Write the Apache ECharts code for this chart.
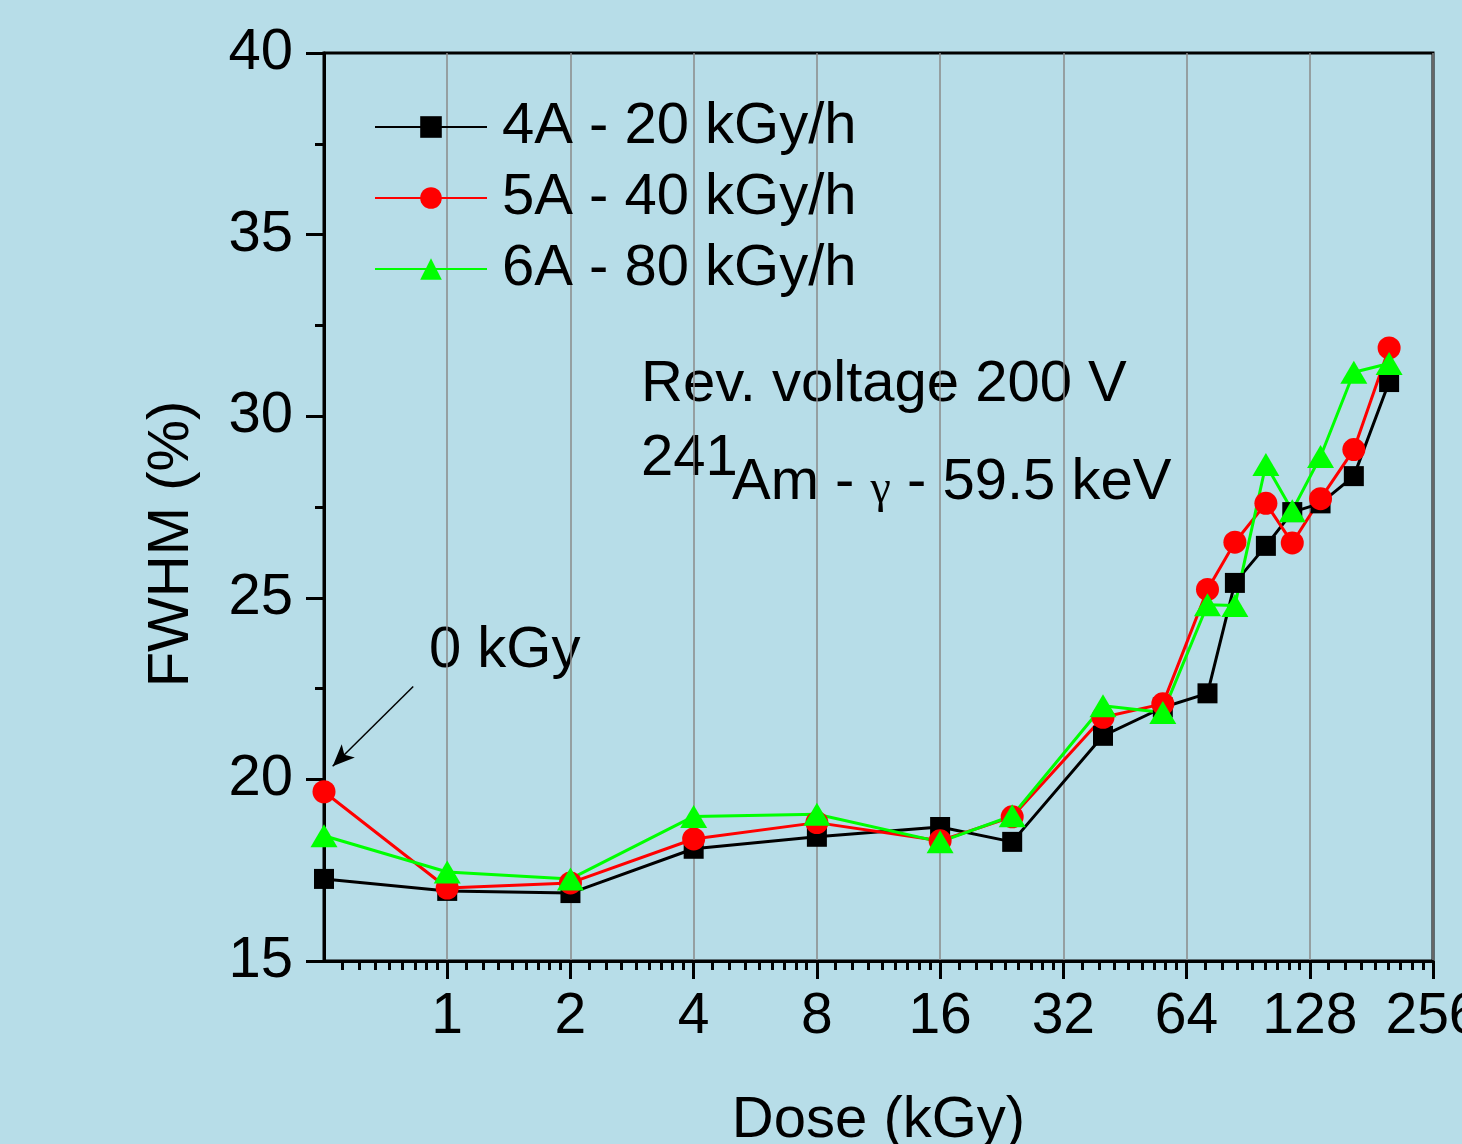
<!DOCTYPE html>
<html>
<head>
<meta charset="utf-8">
<title>FWHM vs Dose</title>
<script src="https://cdn.jsdelivr.net/npm/echarts@6/dist/echarts.min.js"></script>
<style>
  html, body { margin: 0; padding: 0; background: #b7dde8; }
  #chart { width: 1462px; height: 1144px; }
</style>
</head>
<body>
<div id="chart"></div>
<script>
// dose values (kGy); the 0 kGy point sits at the left edge of the log axis
var doses = [0.5, 1, 2, 4, 8, 16, 24, 40, 56, 72, 84, 100, 116, 136, 164, 200];

var fwhm4A = [17.26, 16.93, 16.87, 18.09, 18.42, 18.69, 18.28, 21.20, 21.98, 22.37, 25.41, 26.43, 27.36, 27.60, 28.35, 30.94];
var fwhm5A = [19.66, 17.01, 17.15, 18.36, 18.81, 18.31, 18.97, 21.71, 22.08, 25.23, 26.53, 27.60, 26.51, 27.73, 29.08, 31.88];
var fwhm6A = [18.45, 17.45, 17.26, 18.98, 19.04, 18.28, 19.00, 22.03, 21.84, 24.81, 24.79, 28.67, 27.40, 28.89, 31.21, 31.45];

var seriesNames = ['4A - 20 kGy/h', '5A - 40 kGy/h', '6A - 80 kGy/h'];
var xMajorTicks = [1, 2, 4, 8, 16, 32, 64, 128, 256];

// minor ticks: 8 per octave, like the Origin log2 axis
var xMinorTicks = [];
for (var k = -1; k < 8; k++) {
    for (var j = 1; j <= 8; j++) {
        xMinorTicks.push(Math.pow(2, k) * (1 + j / 9));
    }
}

function pairs(ys) {
    return doses.map(function (d, i) { return [d, ys[i]]; });
}

var FONT = "'Liberation Sans', Arial, sans-serif";

var myChart = echarts.init(document.getElementById('chart'));
var option = {
    animation: false,
    backgroundColor: '#b7dde8',
    textStyle: { fontFamily: FONT },
    grid: {
        left: 324, right: 29, top: 53, bottom: 183,
        outerBoundsMode: 'none',
        containLabel: false,
        show: true,
        borderColor: '#000',
        borderWidth: 3,
        backgroundColor: 'transparent'
    },
    legend: {
        orient: 'vertical',
        left: 369,
        top: 92,
        itemWidth: 112,
        itemHeight: 27,
        itemGap: 11,
        textStyle: { fontSize: 58, lineHeight: 60, color: '#000', fontFamily: FONT, padding: [0, 0, 0, 10] },
        data: seriesNames
    },
    xAxis: [
        {
            type: 'log',
            logBase: 2,
            min: 0.5,
            max: 256,
            position: 'bottom',
            name: 'Dose (kGy)',
            nameLocation: 'middle',
            nameGap: 131,
            nameTextStyle: { fontSize: 58, color: '#000', fontFamily: FONT },
            axisLine: { show: true, lineStyle: { color: '#000', width: 3 } },
            axisTick: { show: true, inside: false, length: 18, customValues: xMajorTicks, lineStyle: { color: '#000', width: 3 } },
            axisLabel: { customValues: xMajorTicks, fontSize: 57, color: '#000', margin: 28, fontFamily: FONT },
            splitLine: { show: true, lineStyle: { color: '#8a8a8a', width: 1.5 } }
        },
        {
            type: 'log',
            logBase: 2,
            min: 0.5,
            max: 256,
            position: 'bottom',
            axisLine: { show: false },
            axisTick: { show: true, inside: false, length: 9, customValues: xMinorTicks, lineStyle: { color: '#000', width: 3 } },
            axisLabel: { show: false },
            splitLine: { show: false }
        }
    ],
    yAxis: {
        type: 'value',
        min: 15,
        max: 40,
        interval: 5,
        axisLine: { show: true, lineStyle: { color: '#000', width: 3 } },
        axisTick: { show: true, inside: false, length: 18, lineStyle: { color: '#000', width: 3 } },
        minorTick: { show: true, splitNumber: 2, length: 9, lineStyle: { color: '#000', width: 3 } },
        axisLabel: { fontSize: 58, color: '#000', margin: 31, fontFamily: FONT },
        splitLine: { show: false }
    },
    series: [
        {
            name: seriesNames[0],
            type: 'line',
            data: pairs(fwhm4A),
            symbol: 'rect',
            symbolSize: 20,
            itemStyle: { color: '#000' },
            lineStyle: { color: '#000', width: 3 },
            markLine: {
                silent: true,
                symbol: ['none', 'arrow'],
                symbolSize: [14, 22],
                label: { show: false },
                lineStyle: { color: '#000', width: 1.5, type: 'solid' },
                data: [[{ coord: [0.826, 22.56] }, { coord: [0.525, 20.36] }]]
            }
        },
        {
            name: seriesNames[1],
            type: 'line',
            data: pairs(fwhm5A),
            symbol: 'circle',
            symbolSize: 23,
            itemStyle: { color: '#ff0000' },
            lineStyle: { color: '#ff0000', width: 3 }
        },
        {
            name: seriesNames[2],
            type: 'line',
            data: pairs(fwhm6A),
            symbol: 'triangle',
            symbolSize: [27, 23],
            itemStyle: { color: '#00ff00' },
            lineStyle: { color: '#00ff00', width: 3 }
        }
    ],
    graphic: [
        {
            type: 'text', x: 172, y: 544, rotation: Math.PI / 2,
            style: { text: 'FWHM (%)', fontSize: 58, fontFamily: FONT, fill: '#000', align: 'center', verticalAlign: 'middle' }
        },
        {
            type: 'text', x: 429, y: 651,
            style: { text: '0 kGy', fontSize: 58, fontFamily: FONT, fill: '#000', align: 'left', verticalAlign: 'middle' }
        },
        {
            type: 'text', x: 641, y: 385,
            style: { text: 'Rev. voltage 200 V', fontSize: 58, fontFamily: FONT, fill: '#000', align: 'left', verticalAlign: 'middle' }
        },
        {
            type: 'text', x: 641, y: 459,
            style: { text: '241', fontSize: 58, fontFamily: FONT, fill: '#000', align: 'left', verticalAlign: 'middle' }
        },
        {
            type: 'text', x: 732, y: 483,
            style: {
                text: '{n|Am - }{g|γ}{n| - 59.5 keV}',
                align: 'left', verticalAlign: 'middle',
                rich: {
                    n: { fontSize: 58, fontFamily: FONT, fill: '#000', color: '#000' },
                    g: { fontSize: 46, fontFamily: "'Liberation Serif', 'DejaVu Serif', serif", fill: '#000', color: '#000', padding: [14, 0, 0, 0] }
                }
            }
        }
    ]
};
myChart.setOption(option);
</script>
</body>
</html>
